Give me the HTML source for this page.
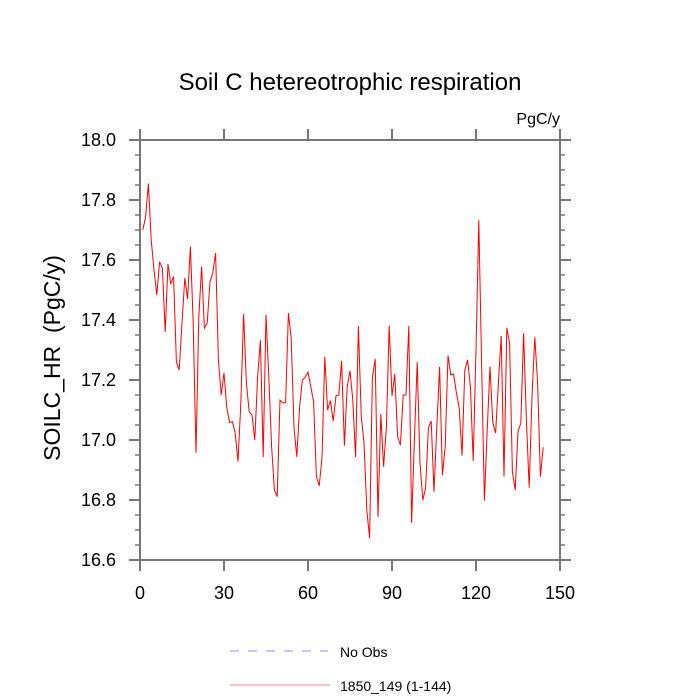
<!DOCTYPE html>
<html><head><meta charset="utf-8"><style>
body{margin:0;background:#fff}
svg{display:block;font-family:"Liberation Sans",sans-serif}
</style></head><body>
<svg id="chart" width="700" height="700" viewBox="0 0 700 700">
<text x="350" y="90" text-anchor="middle" font-size="24">Soil C hetereotrophic respiration</text>
<text x="560" y="124" text-anchor="end" font-size="16">PgC/y</text>
<text transform="translate(60,358) rotate(-90)" text-anchor="middle" font-size="23" xml:space="preserve">SOILC_HR  (PgC/y)</text>
<g id="axes"></g>
<polyline id="series" fill="none" stroke="#ff0000" stroke-width="1"/>
<rect x="140" y="140" width="420" height="420" fill="none" stroke="#777" stroke-width="2"/>
<g>
<line x1="230" y1="651" x2="328" y2="651" stroke="#8888ff" stroke-width="1" stroke-dasharray="9,9"/>
<text x="340" y="657" font-size="14">No Obs</text>
<line x1="230" y1="685" x2="330" y2="685" stroke="#ff8080" stroke-width="1"/>
<text x="340" y="691" font-size="14">1850_149 (1-144)</text>
</g>
</svg>
<script>
const values = [17.70,17.744,17.855,17.667,17.567,17.483,17.594,17.573,17.36,17.587,17.52,17.545,17.26,17.233,17.39,17.54,17.47,17.645,17.39,16.957,17.41,17.578,17.373,17.39,17.528,17.557,17.623,17.267,17.15,17.224,17.107,17.058,17.061,17.023,16.928,17.12,17.42,17.19,17.094,17.083,17.0,17.21,17.333,16.943,17.417,17.21,16.978,16.833,16.811,17.133,17.124,17.124,17.423,17.34,17.04,16.944,17.11,17.2,17.21,17.226,17.178,17.128,16.878,16.847,16.94,17.277,17.1,17.131,17.063,17.147,17.15,17.264,16.981,17.178,17.231,17.133,16.943,17.38,17.083,16.99,16.767,16.673,17.21,17.27,16.744,17.086,16.911,17.044,17.381,17.147,17.22,17.011,16.983,17.15,17.15,17.38,16.724,17.0,17.26,16.923,16.8,16.84,17.041,17.063,16.827,17.044,17.244,16.883,16.978,17.282,17.217,17.22,17.157,17.107,16.948,17.233,17.267,17.178,16.93,17.3,17.733,17.256,16.798,17.033,17.244,17.058,17.023,17.19,17.347,16.878,17.374,17.322,16.894,16.833,17.028,17.056,17.356,17.067,16.841,17.144,17.343,17.19,16.878,16.976];
const xTicks = [0,30,60,90,120,150];
const yTicks = [16.6,16.8,17.0,17.2,17.4,17.6,18.0,17.8];
const X0=140,X1=560,Y0=560,Y1=140;
const xs = v => X0 + (v-0)/(150-0)*(X1-X0);
const ys = v => Y0 - (v-16.6)/(18.0-16.6)*(Y0-Y1);
const NS='http://www.w3.org/2000/svg';
const g=document.getElementById('axes');
function mk(tag,attrs){const e=document.createElementNS(NS,tag);for(const k in attrs)e.setAttribute(k,attrs[k]);g.appendChild(e);return e;}
xTicks.forEach(t=>{
  const x=xs(t);
  const a=mk('line',{x1:x,y1:Y0,x2:x,y2:Y0+11,stroke:'#777','stroke-width':2});
  
  
  const b=mk('line',{x1:x,y1:Y1,x2:x,y2:Y1-11,stroke:'#777','stroke-width':2});
  
  
  const l=mk('text',{x:x,y:599,'text-anchor':'middle','font-size':18});
  l.textContent=String(t);
  
  
});
for(let k=0;k<=28;k++){
  const v=16.6+k*0.05, y=ys(v), major=(k%4===0);
  const len=major?11:5;
  const a=mk('line',{x1:X0,y1:y,x2:X0-len,y2:y,stroke:'#777','stroke-width':major?2:1.5});
  
  
  const b=mk('line',{x1:X1,y1:y,x2:X1+len,y2:y,stroke:'#777','stroke-width':major?2:1.5});
  
  
}
yTicks.forEach(t=>{
  const l=mk('text',{x:116,y:ys(t)+6,'text-anchor':'end','font-size':18});
  l.textContent=t.toFixed(1);
  
  
});
document.getElementById('series').setAttribute('points',values.map((v,i)=>xs(i+1).toFixed(1)+','+ys(v).toFixed(1)).join(' '));
</script>
</body></html>
